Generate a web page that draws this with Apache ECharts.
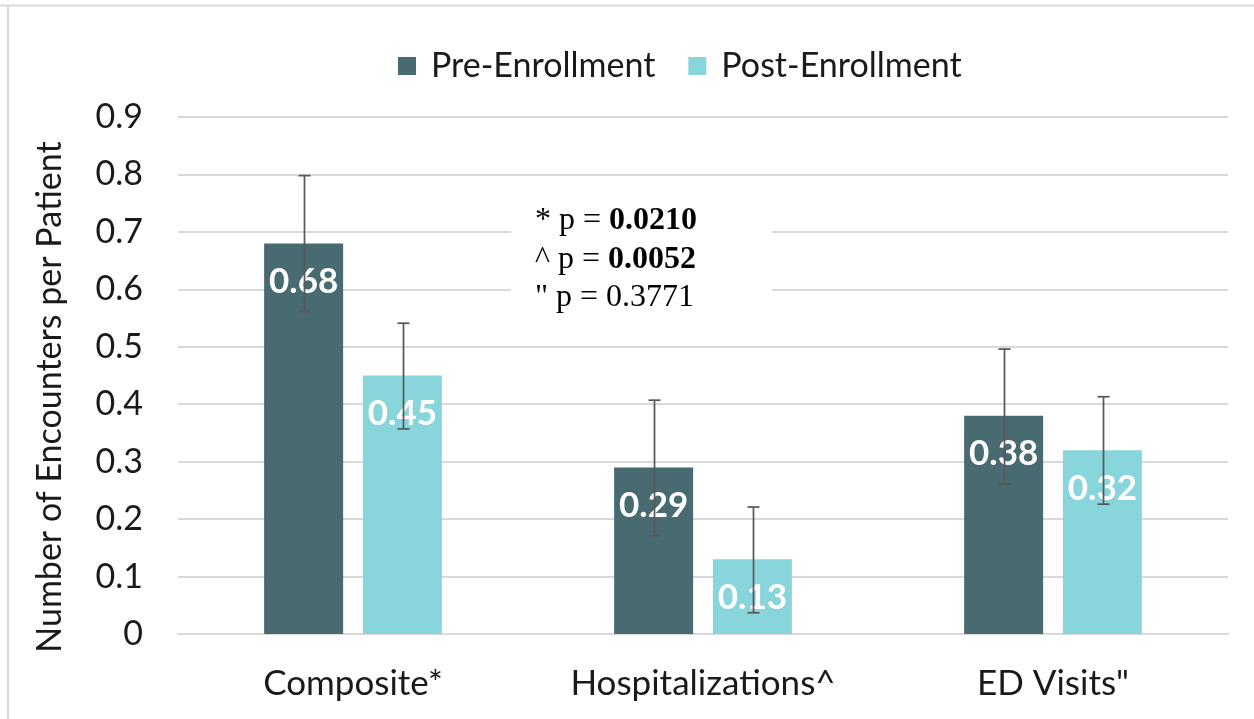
<!DOCTYPE html>
<html>
<head>
<meta charset="utf-8">
<script src="https://cdn.jsdelivr.net/npm/echarts@6/dist/echarts.min.js"></script>
<style>html,body{margin:0;padding:0;background:#fff}#c{width:1254px;height:719px}</style>
</head>
<body>
<div id="c"></div>
<script>
const categories = ['Composite*', 'Hospitalizations^', 'ED Visits"'];
const seriesNames = ['Pre-Enrollment', 'Post-Enrollment'];
const preValues = [0.68, 0.29, 0.38];
const postValues = [0.45, 0.13, 0.32];
const preErrLow = [0.561, 0.171, 0.261];
const preErrHigh = [0.798, 0.407, 0.496];
const postErrLow = [0.357, 0.037, 0.226];
const postErrHigh = [0.541, 0.221, 0.413];
const yTicks = [0, 0.1, 0.2, 0.3, 0.4, 0.5, 0.6, 0.7, 0.8, 0.9];
const yAxisTitle = 'Number of Encounters per Patient';
const pLines = [['* p = ', '0.0210', true], ['^ p = ', '0.0052', true], ['" p = ', '0.3771', false]];

const PRE = '#476B70', POST = '#88D5DC';
const FONT = 'Lato';

function errSeries(low, high, seriesIndex) {
  return {
    type: 'custom',
    z: 10,
    data: categories.map((c, i) => [i, low[i], high[i]]),
    renderItem: function (params, api) {
      const idx = api.value(0);
      const lo = api.coord([idx, api.value(1)]);
      const hi = api.coord([idx, api.value(2)]);
      const barW = 79, gap = 20;
      const offset = seriesIndex === 0 ? -(barW + gap) / 2 : (barW + gap) / 2;
      const x = Math.round(lo[0] + offset) + 0.5;
      const cap = 6;
      const st = { stroke: '#595959', lineWidth: 1.75 };
      return {
        type: 'group',
        children: [
          { type: 'line', shape: { x1: x, y1: hi[1], x2: x, y2: lo[1] }, style: st },
          { type: 'line', shape: { x1: x - cap, y1: hi[1], x2: x + cap, y2: hi[1] }, style: st },
          { type: 'line', shape: { x1: x - cap, y1: lo[1], x2: x + cap, y2: lo[1] }, style: st }
        ]
      };
    }
  };
}

const chart = echarts.init(document.getElementById('c'));
const labelCfg = {
  show: true,
  position: 'insideTop',
  distance: 21,
  color: '#fff',
  fontFamily: FONT,
  fontWeight: 'bold',
  fontSize: 35,
  formatter: p => p.value.toFixed(2)
};
chart.setOption({
  animation: false,
  legend: {
    top: 44,
    left: 393,
    itemWidth: 18,
    itemHeight: 18,
    itemGap: 33,
    icon: 'rect',
    data: seriesNames,
    textStyle: { fontFamily: FONT, fontSize: 34, color: '#1a1a1a', padding: [0, 0, 0, 10] }
  },
  grid: { left: 178, right: 26, top: 117, bottom: 85, containLabel: false },
  xAxis: {
    type: 'category',
    data: categories,
    axisLine: { lineStyle: { color: '#d9d9d9', width: 2 } },
    axisTick: { show: false },
    axisLabel: { fontFamily: FONT, fontSize: 35, color: '#1a1a1a', margin: 32 }
  },
  yAxis: {
    type: 'value',
    min: 0, max: 0.9, interval: 0.1,
    axisLine: { show: false },
    axisTick: { show: false },
    splitLine: { lineStyle: { color: '#d9d9d9', width: 2 } },
    axisLabel: {
      fontFamily: FONT, fontSize: 34, color: '#1a1a1a', margin: 35,
      formatter: v => { const t = yTicks.find(k => Math.abs(k - v) < 1e-6); return t === 0 ? '0' : t.toFixed(1); }
    }
  },
  graphic: [
    { type: 'line', shape: { x1: 0, y1: 5.5, x2: 1254, y2: 5.5 }, style: { stroke: '#d9d9d9', lineWidth: 2 } },
    { type: 'line', shape: { x1: 8, y1: 5, x2: 8, y2: 719 }, style: { stroke: '#d9d9d9', lineWidth: 2 } },
    {
      type: 'text', x: 50, y: 397, rotation: Math.PI / 2,
      style: { text: yAxisTitle, fontFamily: FONT, fontSize: 34, fill: '#1a1a1a', align: 'center', verticalAlign: 'middle' }
    },
    { type: 'rect', shape: { x: 511, y: 196, width: 261, height: 122 }, style: { fill: '#fff' }, z: 50 },
    ...pLines.map((l, i) => ({
      type: 'text', x: 535, y: 221 + i * 38.5, z: 51,
      style: {
        text: '{a|' + l[0] + '}{' + (l[2] ? 'b' : 'a') + '|' + l[1] + '}',
        verticalAlign: 'middle',
        rich: {
          a: { fontFamily: 'Liberation Serif', fontSize: 32, fill: '#000' },
          b: { fontFamily: 'Liberation Serif', fontSize: 32, fontWeight: 'bold', fill: '#000' }
        }
      }
    }))
  ],
  series: [
    { name: seriesNames[0], type: 'bar', data: preValues, barWidth: 79, barGap: '25%', itemStyle: { color: PRE }, label: labelCfg },
    { name: seriesNames[1], type: 'bar', data: postValues, barWidth: 79, itemStyle: { color: POST }, label: labelCfg },
    errSeries(preErrLow, preErrHigh, 0),
    errSeries(postErrLow, postErrHigh, 1)
  ]
});
</script>
</body>
</html>
